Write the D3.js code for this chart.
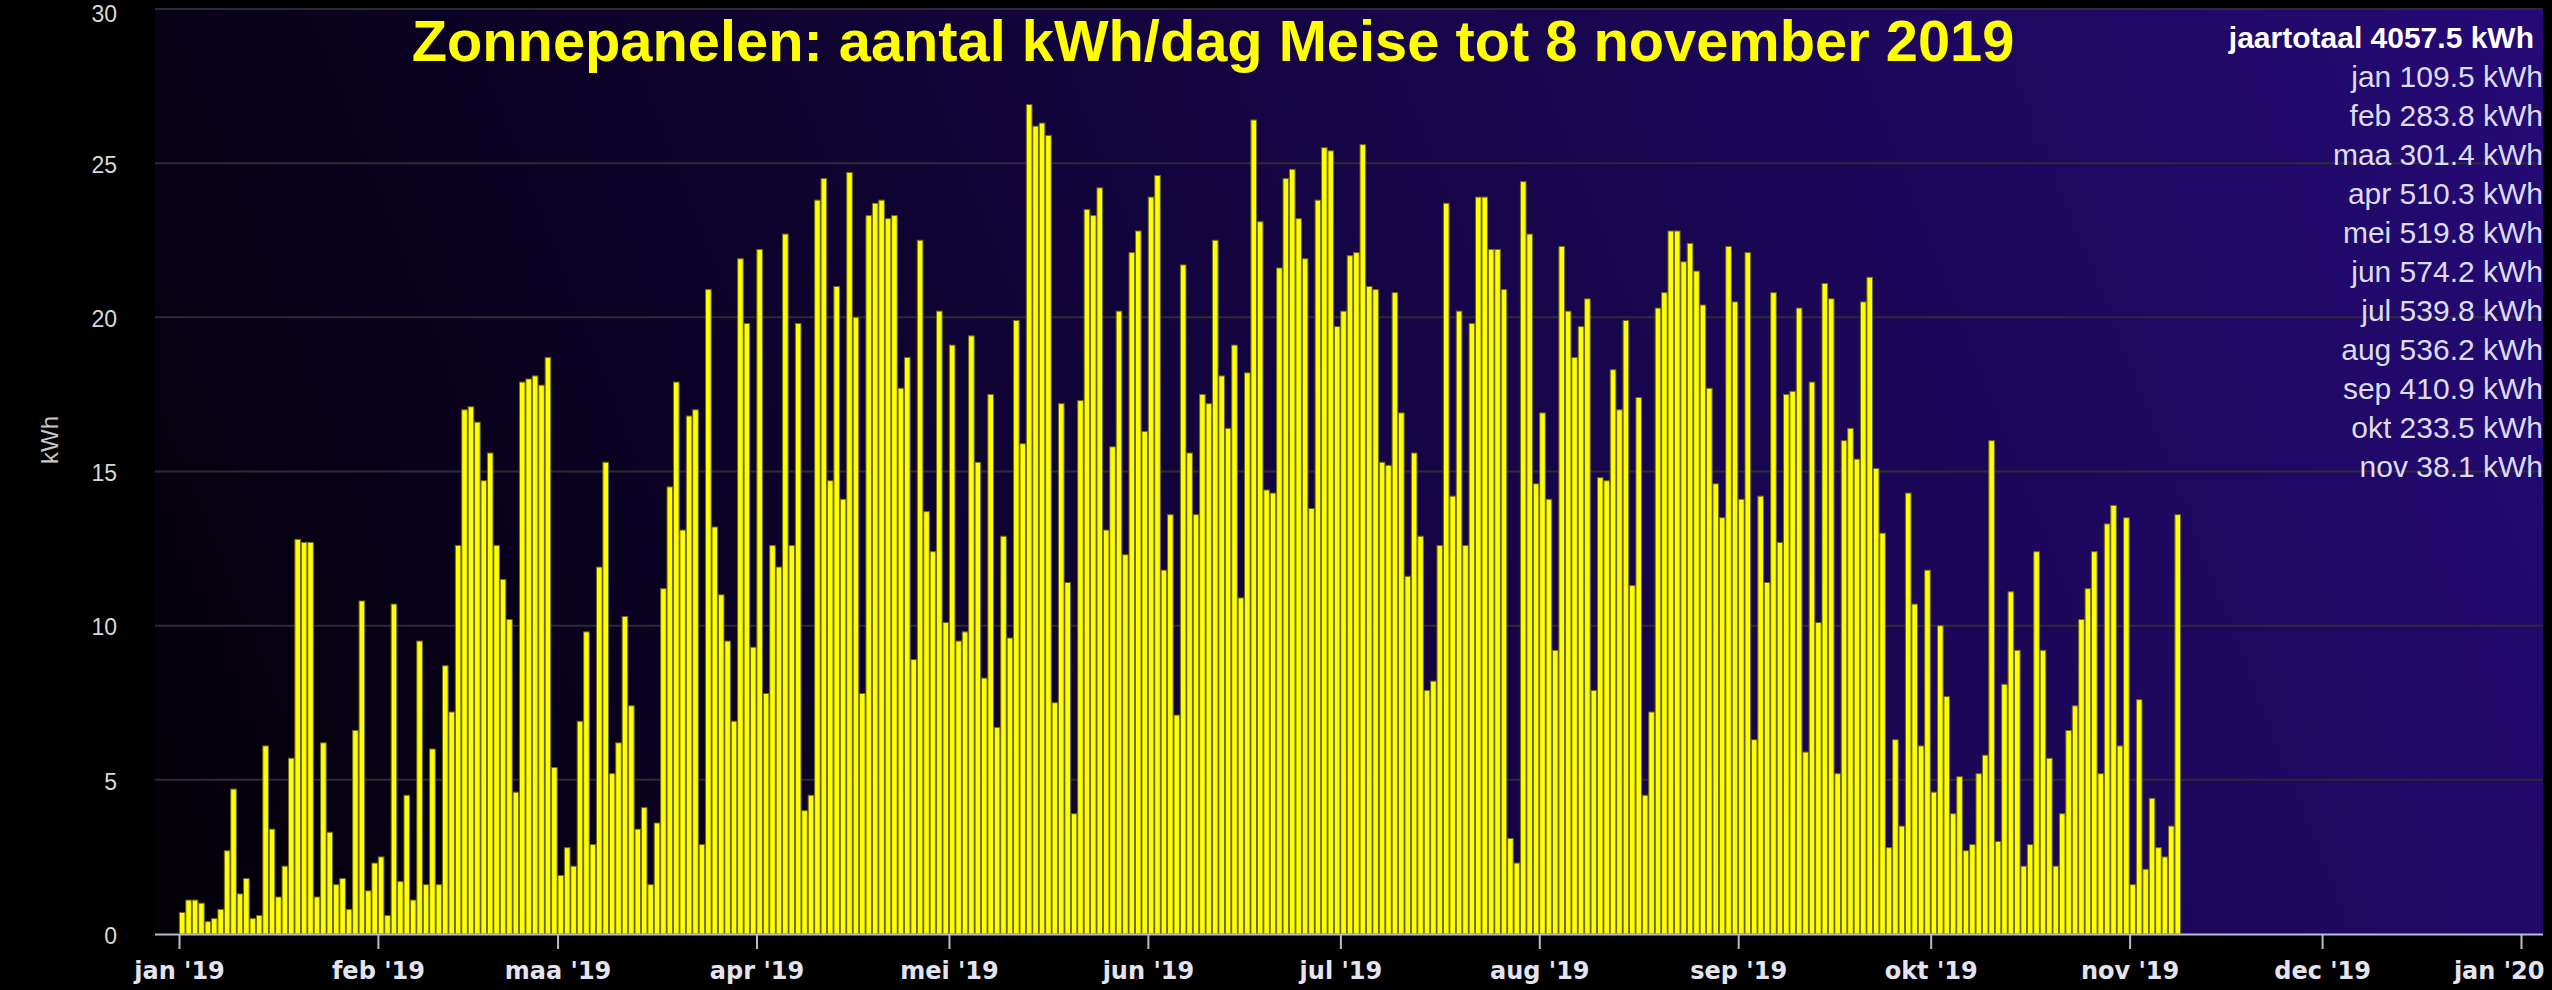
<!DOCTYPE html>
<html>
<head>
<meta charset="utf-8">
<script src="https://cdn.jsdelivr.net/npm/d3@7"></script>
<style>
  html, body { margin: 0; padding: 0; background: #000; overflow: hidden; }
  svg { display: block; }
</style>
</head>
<body>
<svg id="chart" width="2552" height="990"></svg>
<script>
// Daily solar yield (kWh) for Meise, 2019, one array per month
const jan = [0.7, 1.1, 1.1, 1.0, 0.4, 0.5, 0.8, 2.7, 4.7, 1.3, 1.8, 0.5, 0.6, 6.1, 3.4, 1.2, 2.2, 5.7, 12.8, 12.7, 12.7, 1.2, 6.2, 3.3, 1.6, 1.8, 0.8, 6.6, 10.8, 1.4, 2.3];
const feb = [2.5, 0.6, 10.7, 1.7, 4.5, 1.1, 9.5, 1.6, 6.0, 1.6, 8.7, 7.2, 12.6, 17.0, 17.1, 16.6, 14.7, 15.6, 12.6, 11.5, 10.2, 4.6, 17.9, 18.0, 18.1, 17.8, 18.7, 5.4];
const maa = [1.9, 2.8, 2.2, 6.9, 9.8, 2.9, 11.9, 15.3, 5.2, 6.2, 10.3, 7.4, 3.4, 4.1, 1.6, 3.6, 11.2, 14.5, 17.9, 13.1, 16.8, 17.0, 2.9, 20.9, 13.2, 11.0, 9.5, 6.9, 21.9, 19.8, 9.3];
const apr = [22.2, 7.8, 12.6, 11.9, 22.7, 12.6, 19.8, 4.0, 4.5, 23.8, 24.5, 14.7, 21.0, 14.1, 24.7, 20.0, 7.8, 23.3, 23.7, 23.8, 23.2, 23.3, 17.7, 18.7, 8.9, 22.5, 13.7, 12.4, 20.2, 10.1];
const mei = [19.1, 9.5, 9.8, 19.4, 15.3, 8.3, 17.5, 6.7, 12.9, 9.6, 19.9, 15.9, 26.9, 26.2, 26.3, 25.9, 7.5, 17.2, 11.4, 3.9, 17.3, 23.5, 23.3, 24.2, 13.1, 15.8, 20.2, 12.3, 22.1, 22.8, 16.3];
const jun = [23.9, 24.6, 11.8, 13.6, 7.1, 21.7, 15.6, 13.6, 17.5, 17.2, 22.5, 18.1, 16.4, 19.1, 10.9, 18.2, 26.4, 23.1, 14.4, 14.3, 21.6, 24.5, 24.8, 23.2, 21.9, 13.8, 23.8, 25.5, 25.4, 19.7];
const jul = [20.2, 22.0, 22.1, 25.6, 21.0, 20.9, 15.3, 15.2, 20.8, 16.9, 11.6, 15.6, 12.9, 7.9, 8.2, 12.6, 23.7, 14.2, 20.2, 12.6, 19.8, 23.9, 23.9, 22.2, 22.2, 20.9, 3.1, 2.3, 24.4, 22.7, 14.6];
const aug = [16.9, 14.1, 9.2, 22.3, 20.2, 18.7, 19.7, 20.6, 7.9, 14.8, 14.7, 18.3, 17.0, 19.9, 11.3, 17.4, 4.5, 7.2, 20.3, 20.8, 22.8, 22.8, 21.8, 22.4, 21.5, 20.4, 17.7, 14.6, 13.5, 22.3, 20.5];
const sep = [14.1, 22.1, 6.3, 14.2, 11.4, 20.8, 12.7, 17.5, 17.6, 20.3, 5.9, 17.9, 10.1, 21.1, 20.6, 5.2, 16.0, 16.4, 15.4, 20.5, 21.3, 15.1, 13.0, 2.8, 6.3, 3.5, 14.3, 10.7, 6.1, 11.8];
const okt = [4.6, 10.0, 7.7, 3.9, 5.1, 2.7, 2.9, 5.2, 5.8, 16.0, 3.0, 8.1, 11.1, 9.2, 2.2, 2.9, 12.4, 9.2, 5.7, 2.2, 3.9, 6.6, 7.4, 10.2, 11.2, 12.4, 5.2, 13.3, 13.9, 6.1, 13.5];
const nov = [1.6, 7.6, 2.1, 4.4, 2.8, 2.5, 3.5, 13.6];

const monthNames = ["jan", "feb", "maa", "apr", "mei", "jun", "jul", "aug", "sep", "okt", "nov", "dec"];
const monthTotals = [109.5, 283.8, 301.4, 510.3, 519.8, 574.2, 539.8, 536.2, 410.9, 233.5, 38.1];
const yearTotal = 4057.5;
const yTicks = [0, 5, 10, 15, 20, 25, 30];
const titleText = "Zonnepanelen: aantal kWh/dag Meise tot 8 november 2019";

const monthly = [jan, feb, maa, apr, mei, jun, jul, aug, sep, okt, nov];
const days = [];
monthly.forEach((vals, m) => vals.forEach((v, i) => days.push({ date: new Date(2019, m, i + 1), value: v })));

// ---- layout ----
const plot = { left: 155, right: 2543, top: 9, bottom: 934 };

const svg = d3.select("#chart");

const x = d3.scaleTime()
  .domain([new Date(2019, 0, 1), new Date(2020, 0, 1)])
  .range([179, 2521]);

const y = d3.scaleLinear()
  .domain([0, 30])
  .range([plot.bottom, plot.top]);

// ---- plot background ----
const defs = svg.append("defs");
const grad = defs.append("linearGradient")
  .attr("id", "bg")
  .attr("gradientUnits", "userSpaceOnUse")
  .attr("x1", plot.left).attr("y1", plot.bottom)
  .attr("x2", plot.right).attr("y2", plot.top);
grad.append("stop").attr("offset", 0).attr("stop-color", "#030007");
grad.append("stop").attr("offset", 0.45).attr("stop-color", "#12043c");
grad.append("stop").attr("offset", 1).attr("stop-color", "#250a76");

svg.append("rect")
  .attr("x", plot.left).attr("y", plot.top)
  .attr("width", plot.right - plot.left)
  .attr("height", plot.bottom - plot.top)
  .attr("fill", "url(#bg)");

// ---- horizontal grid ----
svg.append("g")
  .selectAll("line")
  .data(yTicks.filter(t => t > 0))
  .join("line")
  .attr("x1", plot.left).attr("x2", plot.right)
  .attr("y1", d => y(d)).attr("y2", d => y(d))
  .attr("stroke", "#2e2a36")
  .attr("stroke-width", 2);

// ---- daily bars ----
const dayW = x(new Date(2019, 0, 2)) - x(new Date(2019, 0, 1));
const barW = dayW - 0.8;
svg.append("g")
  .selectAll("rect")
  .data(days)
  .join("rect")
  .attr("x", d => x(d3.timeHour.offset(d.date, 12)) - barW / 2)
  .attr("y", d => y(d.value))
  .attr("width", barW)
  .attr("height", d => y(0) - y(d.value))
  .attr("fill", "#ffff00")
  .attr("stroke", "#6a6a20")
  .attr("stroke-width", 1);

// ---- x axis ----
const monthTicks = d3.timeMonth.range(new Date(2019, 0, 1), new Date(2020, 0, 2));
const xAxis = d3.axisBottom(x)
  .tickValues(monthTicks)
  .tickSize(15)
  .tickPadding(13)
  .tickFormat(d => monthNames[d.getMonth()] + " '" + String(d.getFullYear()).slice(2));

const gx = svg.append("g")
  .attr("transform", `translate(0,${plot.bottom})`)
  .call(xAxis);
gx.select(".domain")
  .attr("d", `M${plot.left},0.5H${plot.right}`)
  .attr("stroke", "#b8bcd0")
  .attr("stroke-width", 2);
gx.selectAll(".tick line").attr("stroke", "#b8bcd0").attr("stroke-width", 2);
gx.selectAll(".tick text")
  .attr("fill", "#e4e4f0")
  .attr("font-family", "'DejaVu Sans', sans-serif")
  .attr("font-weight", "bold")
  .attr("font-size", 24);
// keep the last label inside the chart's right edge
gx.selectAll(".tick text")
  .filter((d, i, n) => i === n.length - 1)
  .attr("text-anchor", "end")
  .attr("x", plot.right + 1 - x(monthTicks[monthTicks.length - 1]));

// ---- y axis ----
const yAxis = d3.axisLeft(y).tickValues(yTicks).tickSize(0).tickPadding(38);
const gy = svg.append("g")
  .attr("transform", `translate(${plot.left},0)`)
  .call(yAxis);
gy.select(".domain").remove();
gy.selectAll(".tick text")
  .attr("fill", "#d8d8d8")
  .attr("font-family", "'Liberation Sans', Arial, sans-serif")
  .attr("font-size", 23)
  .attr("dy", d => d === 30 ? "0.55em" : "0.4em");

svg.append("text")
  .attr("transform", `translate(58,440) rotate(-90)`)
  .attr("text-anchor", "middle")
  .attr("fill", "#c8c8c8")
  .attr("font-family", "'Liberation Sans', Arial, sans-serif")
  .attr("font-size", 24)
  .text("kWh");

// ---- title ----
svg.append("text")
  .attr("x", 1213).attr("y", 61)
  .attr("text-anchor", "middle")
  .attr("fill", "#ffff00")
  .attr("font-family", "'Liberation Sans', Arial, sans-serif")
  .attr("font-weight", "bold")
  .attr("font-size", 57.8)
  .text(titleText);

// ---- monthly totals ----
const fmt = d3.format(".1f");
const legend = svg.append("g").attr("font-family", "'Liberation Sans', Arial, sans-serif").attr("text-anchor", "end");
legend.append("text")
  .attr("x", 2534).attr("y", 48)
  .attr("fill", "#ffffff")
  .attr("font-weight", "bold")
  .attr("font-size", 30)
  .text(`jaartotaal ${fmt(yearTotal)} kWh`);
legend.selectAll("text.m")
  .data(monthTotals)
  .join("text")
  .attr("class", "m")
  .attr("x", 2543)
  .attr("y", (d, i) => 48 + 39 * (i + 1))
  .attr("fill", "#dcdcf0")
  .attr("font-size", 30)
  .text((d, i) => `${monthNames[i]} ${fmt(d)} kWh`);
</script>
</body>
</html>
